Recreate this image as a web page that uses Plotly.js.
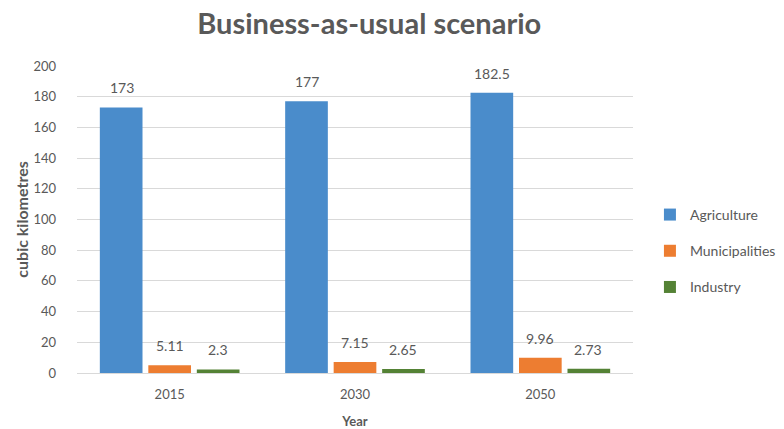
<!DOCTYPE html>
<html><head><meta charset="utf-8">
<script src="https://cdn.plot.ly/plotly-3.0.1.min.js"></script>
<style>html,body{margin:0;padding:0;background:#fff;}#chart{width:784px;height:429px;}</style>
</head><body><div id="chart"></div>
<script>
const years = ['2015', '2030', '2050'];
const agriculture = [173, 177, 182.5];
const municipalities = [5.11, 7.15, 9.96];
const industry = [2.3, 2.65, 2.73];
const seriesNames = ['Agriculture', 'Municipalities', 'Industry'];
const seriesColors = ['#4a8ccb', '#ed7d31', '#548235'];
const yTicks = [0, 20, 40, 60, 80, 100, 120, 140, 160, 180, 200];

const txtColor = '#595959';
const font = 'Lato, "Open Sans", sans-serif';
const series = [agriculture, municipalities, industry];
const traces = series.map((vals, i) => ({
  type: 'bar', name: seriesNames[i], x: years, y: vals,
  marker: {color: seriesColors[i]}, legendgroup: 'g' + i,
  hoverinfo: 'none'
}));

// data labels placed over each bar (category index on the x axis, shifted to the bar slot)
const slotShift = [-48, 0, 48];
const annotations = [];
series.forEach((vals, i) => {
  vals.forEach((v, j) => {
    annotations.push({x: j, y: v, xref: 'x', yref: 'y', text: String(v), showarrow: false,
      yanchor: 'bottom', yshift: 9, xshift: slotShift[i],
      font: {family: font, size: 14, color: txtColor}});
  });
});

const layout = {
  width: 784, height: 429,
  margin: {l: 77, r: 151, t: 66, b: 56},
  paper_bgcolor: '#fff', plot_bgcolor: '#fff',
  barmode: 'group', bargap: 0.215, bargroupgap: 0.12,
  title: {text: '<b>Business-as-usual scenario</b>', x: 0.471, xref: 'container', xanchor: 'center',
          y: 0.945, yanchor: 'middle',
          font: {family: font, size: 29, color: txtColor}},
  annotations: annotations,
  xaxis: {type: 'category', showgrid: false, showline: true, linecolor: '#d9d9d9', linewidth: 1,
          tickfont: {family: font, size: 13, color: txtColor}, ticks: '', ticklabelstandoff: 9,
          title: {text: '<b>Year</b>', font: {family: font, size: 13, color: txtColor}, standoff: 18}},
  yaxis: {range: [0, 200], tickvals: yTicks, ticktext: yTicks.map(String), showgrid: true, gridcolor: '#d9d9d9',
          zeroline: false, showline: false, ticks: '', ticklabelstandoff: 20,
          tickfont: {family: font, size: 13, color: txtColor},
          title: {text: '<b>cubic kilometres</b>', font: {family: font, size: 16, color: txtColor}, standoff: 0}},
  legend: {x: 0.829, xref: 'container', xanchor: 'left', y: 0.415, yanchor: 'middle', yref: 'container',
           tracegroupgap: 15, traceorder: 'grouped',
           font: {family: font, size: 14, color: txtColor}, itemwidth: 30},
  showlegend: true
};
Plotly.newPlot('chart', traces, layout, {displayModeBar: false, staticPlot: true});
</script></body></html>
